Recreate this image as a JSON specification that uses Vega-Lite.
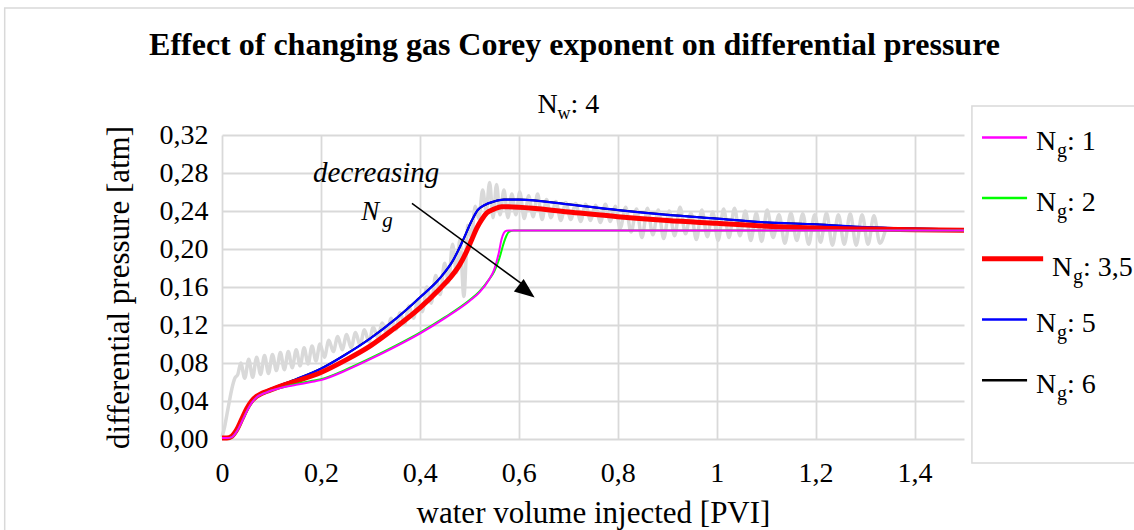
{
  "$schema": "https://vega.github.io/schema/vega-lite/v6.json",
  "width": 742,
  "height": 304,
  "autosize": {"type": "none"},
  "padding": {"left": 222, "top": 135, "right": 170, "bottom": 91},
  "background": "white",
  "config": {"font": "Liberation Serif", "view": {"stroke": null}},
  "datasets": {
    "one": [{}],
    "legend": [
      {"series": "1", "label": ": 1"},
      {"series": "2", "label": ": 2"},
      {"series": "3,5", "label": ": 3,5"},
      {"series": "5", "label": ": 5"},
      {"series": "6", "label": ": 6"}
    ],
    "exp": [
      {"x": 0.000, "y": 0.002}, {"x": 0.005, "y": 0.012}, {"x": 0.010, "y": 0.026}, {"x": 0.015, "y": 0.040},
      {"x": 0.020, "y": 0.053}, {"x": 0.026, "y": 0.064}, {"x": 0.032, "y": 0.068}, {"x": 0.038, "y": 0.080},
      {"x": 0.046, "y": 0.064}, {"x": 0.054, "y": 0.084}, {"x": 0.062, "y": 0.065}, {"x": 0.070, "y": 0.086},
      {"x": 0.078, "y": 0.068}, {"x": 0.086, "y": 0.088}, {"x": 0.094, "y": 0.069}, {"x": 0.102, "y": 0.089},
      {"x": 0.110, "y": 0.072}, {"x": 0.118, "y": 0.091}, {"x": 0.126, "y": 0.073}, {"x": 0.134, "y": 0.092},
      {"x": 0.142, "y": 0.075}, {"x": 0.150, "y": 0.094}, {"x": 0.158, "y": 0.077}, {"x": 0.166, "y": 0.096},
      {"x": 0.174, "y": 0.079}, {"x": 0.182, "y": 0.098}, {"x": 0.190, "y": 0.082}, {"x": 0.198, "y": 0.100},
      {"x": 0.207, "y": 0.086}, {"x": 0.216, "y": 0.104}, {"x": 0.225, "y": 0.092}, {"x": 0.234, "y": 0.108},
      {"x": 0.243, "y": 0.094}, {"x": 0.252, "y": 0.110}, {"x": 0.261, "y": 0.096}, {"x": 0.270, "y": 0.112},
      {"x": 0.279, "y": 0.099}, {"x": 0.288, "y": 0.115}, {"x": 0.297, "y": 0.102}, {"x": 0.306, "y": 0.118},
      {"x": 0.315, "y": 0.106}, {"x": 0.324, "y": 0.122}, {"x": 0.333, "y": 0.111}, {"x": 0.342, "y": 0.127},
      {"x": 0.351, "y": 0.115}, {"x": 0.360, "y": 0.133}, {"x": 0.369, "y": 0.121}, {"x": 0.378, "y": 0.140},
      {"x": 0.387, "y": 0.127}, {"x": 0.396, "y": 0.147}, {"x": 0.405, "y": 0.134}, {"x": 0.414, "y": 0.160},
      {"x": 0.423, "y": 0.143}, {"x": 0.432, "y": 0.172}, {"x": 0.441, "y": 0.152}, {"x": 0.450, "y": 0.185},
      {"x": 0.458, "y": 0.165}, {"x": 0.466, "y": 0.205}, {"x": 0.474, "y": 0.175}, {"x": 0.481, "y": 0.210},
      {"x": 0.489, "y": 0.150}, {"x": 0.497, "y": 0.225}, {"x": 0.504, "y": 0.212}, {"x": 0.512, "y": 0.245},
      {"x": 0.519, "y": 0.232}, {"x": 0.527, "y": 0.262}, {"x": 0.534, "y": 0.240}, {"x": 0.541, "y": 0.270},
      {"x": 0.548, "y": 0.233}, {"x": 0.555, "y": 0.268}, {"x": 0.562, "y": 0.236}, {"x": 0.570, "y": 0.262},
      {"x": 0.578, "y": 0.233}, {"x": 0.586, "y": 0.258}, {"x": 0.594, "y": 0.236}, {"x": 0.602, "y": 0.260},
      {"x": 0.611, "y": 0.232}, {"x": 0.620, "y": 0.256}, {"x": 0.629, "y": 0.234}, {"x": 0.638, "y": 0.258},
      {"x": 0.647, "y": 0.231}, {"x": 0.656, "y": 0.252}, {"x": 0.665, "y": 0.233}, {"x": 0.675, "y": 0.250},
      {"x": 0.685, "y": 0.230}, {"x": 0.695, "y": 0.249}, {"x": 0.705, "y": 0.231}, {"x": 0.715, "y": 0.248},
      {"x": 0.725, "y": 0.229}, {"x": 0.735, "y": 0.247}, {"x": 0.745, "y": 0.230}, {"x": 0.755, "y": 0.246},
      {"x": 0.765, "y": 0.228}, {"x": 0.775, "y": 0.247}, {"x": 0.785, "y": 0.229}, {"x": 0.795, "y": 0.245},
      {"x": 0.805, "y": 0.222}, {"x": 0.816, "y": 0.244}, {"x": 0.827, "y": 0.218}, {"x": 0.838, "y": 0.242},
      {"x": 0.849, "y": 0.212}, {"x": 0.860, "y": 0.243}, {"x": 0.871, "y": 0.215}, {"x": 0.882, "y": 0.241},
      {"x": 0.893, "y": 0.211}, {"x": 0.904, "y": 0.240}, {"x": 0.915, "y": 0.214}, {"x": 0.926, "y": 0.244},
      {"x": 0.937, "y": 0.216}, {"x": 0.948, "y": 0.238}, {"x": 0.959, "y": 0.210}, {"x": 0.970, "y": 0.241},
      {"x": 0.981, "y": 0.213}, {"x": 0.992, "y": 0.239}, {"x": 1.003, "y": 0.209}, {"x": 1.014, "y": 0.242},
      {"x": 1.025, "y": 0.212}, {"x": 1.036, "y": 0.243}, {"x": 1.047, "y": 0.214}, {"x": 1.058, "y": 0.240},
      {"x": 1.069, "y": 0.209}, {"x": 1.080, "y": 0.238}, {"x": 1.091, "y": 0.208}, {"x": 1.102, "y": 0.241},
      {"x": 1.114, "y": 0.212}, {"x": 1.126, "y": 0.236}, {"x": 1.138, "y": 0.206}, {"x": 1.150, "y": 0.238},
      {"x": 1.162, "y": 0.209}, {"x": 1.174, "y": 0.237}, {"x": 1.186, "y": 0.205}, {"x": 1.198, "y": 0.236},
      {"x": 1.210, "y": 0.207}, {"x": 1.222, "y": 0.238}, {"x": 1.234, "y": 0.204}, {"x": 1.246, "y": 0.236},
      {"x": 1.258, "y": 0.205}, {"x": 1.270, "y": 0.237}, {"x": 1.282, "y": 0.204}, {"x": 1.294, "y": 0.236},
      {"x": 1.306, "y": 0.205}, {"x": 1.318, "y": 0.235}, {"x": 1.330, "y": 0.206}, {"x": 1.342, "y": 0.222}
    ],
    "curves": [
      {"s": "6", "x": 0, "y": 0.001}, {"s": "6", "x": 0.01, "y": 0.001}, {"s": "6", "x": 0.02, "y": 0.003}, {"s": "6", "x": 0.03, "y": 0.010},
      {"s": "6", "x": 0.04, "y": 0.021}, {"s": "6", "x": 0.05, "y": 0.032}, {"s": "6", "x": 0.06, "y": 0.040}, {"s": "6", "x": 0.07, "y": 0.045},
      {"s": "6", "x": 0.08, "y": 0.048}, {"s": "6", "x": 0.09, "y": 0.051}, {"s": "6", "x": 0.10, "y": 0.053}, {"s": "6", "x": 0.12, "y": 0.057},
      {"s": "6", "x": 0.15, "y": 0.063}, {"s": "6", "x": 0.20, "y": 0.074}, {"s": "6", "x": 0.25, "y": 0.089}, {"s": "6", "x": 0.30, "y": 0.106},
      {"s": "6", "x": 0.35, "y": 0.126}, {"s": "6", "x": 0.40, "y": 0.149}, {"s": "6", "x": 0.44, "y": 0.169}, {"s": "6", "x": 0.467, "y": 0.188},
      {"s": "6", "x": 0.487, "y": 0.209}, {"s": "6", "x": 0.505, "y": 0.230}, {"s": "6", "x": 0.517, "y": 0.241}, {"s": "6", "x": 0.53, "y": 0.246},
      {"s": "6", "x": 0.55, "y": 0.250}, {"s": "6", "x": 0.57, "y": 0.252}, {"s": "6", "x": 0.60, "y": 0.252}, {"s": "6", "x": 0.70, "y": 0.247},
      {"s": "6", "x": 0.80, "y": 0.241}, {"s": "6", "x": 0.90, "y": 0.236}, {"s": "6", "x": 1.00, "y": 0.232}, {"s": "6", "x": 1.10, "y": 0.228},
      {"s": "6", "x": 1.20, "y": 0.226}, {"s": "6", "x": 1.30, "y": 0.223}, {"s": "6", "x": 1.40, "y": 0.2215}, {"s": "6", "x": 1.50, "y": 0.2205},

      {"s": "5", "x": 0, "y": 0.001}, {"s": "5", "x": 0.01, "y": 0.001}, {"s": "5", "x": 0.02, "y": 0.003}, {"s": "5", "x": 0.03, "y": 0.010},
      {"s": "5", "x": 0.04, "y": 0.021}, {"s": "5", "x": 0.05, "y": 0.032}, {"s": "5", "x": 0.06, "y": 0.040}, {"s": "5", "x": 0.07, "y": 0.045},
      {"s": "5", "x": 0.08, "y": 0.048}, {"s": "5", "x": 0.09, "y": 0.051}, {"s": "5", "x": 0.10, "y": 0.053}, {"s": "5", "x": 0.12, "y": 0.057},
      {"s": "5", "x": 0.15, "y": 0.063}, {"s": "5", "x": 0.20, "y": 0.074}, {"s": "5", "x": 0.25, "y": 0.089}, {"s": "5", "x": 0.30, "y": 0.106},
      {"s": "5", "x": 0.35, "y": 0.126}, {"s": "5", "x": 0.40, "y": 0.149}, {"s": "5", "x": 0.44, "y": 0.169}, {"s": "5", "x": 0.467, "y": 0.188},
      {"s": "5", "x": 0.487, "y": 0.209}, {"s": "5", "x": 0.505, "y": 0.230}, {"s": "5", "x": 0.517, "y": 0.241}, {"s": "5", "x": 0.53, "y": 0.246},
      {"s": "5", "x": 0.55, "y": 0.250}, {"s": "5", "x": 0.57, "y": 0.252}, {"s": "5", "x": 0.60, "y": 0.252}, {"s": "5", "x": 0.70, "y": 0.247},
      {"s": "5", "x": 0.80, "y": 0.241}, {"s": "5", "x": 0.90, "y": 0.236}, {"s": "5", "x": 1.00, "y": 0.232}, {"s": "5", "x": 1.10, "y": 0.228},
      {"s": "5", "x": 1.20, "y": 0.226}, {"s": "5", "x": 1.30, "y": 0.223}, {"s": "5", "x": 1.40, "y": 0.2215}, {"s": "5", "x": 1.50, "y": 0.2205},

      {"s": "3,5", "x": 0, "y": 0.001}, {"s": "3,5", "x": 0.01, "y": 0.001}, {"s": "3,5", "x": 0.02, "y": 0.003}, {"s": "3,5", "x": 0.03, "y": 0.010},
      {"s": "3,5", "x": 0.04, "y": 0.021}, {"s": "3,5", "x": 0.05, "y": 0.032}, {"s": "3,5", "x": 0.06, "y": 0.040}, {"s": "3,5", "x": 0.07, "y": 0.045},
      {"s": "3,5", "x": 0.08, "y": 0.048}, {"s": "3,5", "x": 0.09, "y": 0.050}, {"s": "3,5", "x": 0.10, "y": 0.052}, {"s": "3,5", "x": 0.12, "y": 0.056},
      {"s": "3,5", "x": 0.15, "y": 0.061}, {"s": "3,5", "x": 0.20, "y": 0.070}, {"s": "3,5", "x": 0.25, "y": 0.083}, {"s": "3,5", "x": 0.30, "y": 0.098},
      {"s": "3,5", "x": 0.35, "y": 0.117}, {"s": "3,5", "x": 0.40, "y": 0.138}, {"s": "3,5", "x": 0.44, "y": 0.158}, {"s": "3,5", "x": 0.46, "y": 0.169},
      {"s": "3,5", "x": 0.48, "y": 0.183}, {"s": "3,5", "x": 0.495, "y": 0.198}, {"s": "3,5", "x": 0.505, "y": 0.210}, {"s": "3,5", "x": 0.515, "y": 0.222},
      {"s": "3,5", "x": 0.525, "y": 0.231}, {"s": "3,5", "x": 0.535, "y": 0.238}, {"s": "3,5", "x": 0.55, "y": 0.242}, {"s": "3,5", "x": 0.565, "y": 0.2445},
      {"s": "3,5", "x": 0.60, "y": 0.2440}, {"s": "3,5", "x": 0.70, "y": 0.239}, {"s": "3,5", "x": 0.80, "y": 0.234}, {"s": "3,5", "x": 0.90, "y": 0.230},
      {"s": "3,5", "x": 1.00, "y": 0.227}, {"s": "3,5", "x": 1.10, "y": 0.224}, {"s": "3,5", "x": 1.20, "y": 0.222}, {"s": "3,5", "x": 1.30, "y": 0.221},
      {"s": "3,5", "x": 1.40, "y": 0.2203}, {"s": "3,5", "x": 1.50, "y": 0.2198},

      {"s": "2", "x": 0, "y": 0.001}, {"s": "2", "x": 0.01, "y": 0.001}, {"s": "2", "x": 0.02, "y": 0.002}, {"s": "2", "x": 0.03, "y": 0.008},
      {"s": "2", "x": 0.04, "y": 0.018}, {"s": "2", "x": 0.05, "y": 0.029}, {"s": "2", "x": 0.06, "y": 0.038}, {"s": "2", "x": 0.07, "y": 0.044},
      {"s": "2", "x": 0.08, "y": 0.047}, {"s": "2", "x": 0.09, "y": 0.049}, {"s": "2", "x": 0.10, "y": 0.051}, {"s": "2", "x": 0.12, "y": 0.054},
      {"s": "2", "x": 0.15, "y": 0.058}, {"s": "2", "x": 0.18, "y": 0.061}, {"s": "2", "x": 0.20, "y": 0.063}, {"s": "2", "x": 0.25, "y": 0.073},
      {"s": "2", "x": 0.30, "y": 0.085}, {"s": "2", "x": 0.35, "y": 0.098}, {"s": "2", "x": 0.40, "y": 0.112}, {"s": "2", "x": 0.45, "y": 0.128},
      {"s": "2", "x": 0.50, "y": 0.146}, {"s": "2", "x": 0.52, "y": 0.155}, {"s": "2", "x": 0.54, "y": 0.168}, {"s": "2", "x": 0.55, "y": 0.176},
      {"s": "2", "x": 0.56, "y": 0.189}, {"s": "2", "x": 0.57, "y": 0.207}, {"s": "2", "x": 0.575, "y": 0.214}, {"s": "2", "x": 0.58, "y": 0.218},
      {"s": "2", "x": 0.59, "y": 0.2195}, {"s": "2", "x": 0.70, "y": 0.2195}, {"s": "2", "x": 1.00, "y": 0.2195}, {"s": "2", "x": 1.50, "y": 0.2195},

      {"s": "1", "x": 0, "y": 0.001}, {"s": "1", "x": 0.01, "y": 0.001}, {"s": "1", "x": 0.02, "y": 0.002}, {"s": "1", "x": 0.03, "y": 0.008},
      {"s": "1", "x": 0.04, "y": 0.018}, {"s": "1", "x": 0.05, "y": 0.029}, {"s": "1", "x": 0.06, "y": 0.038}, {"s": "1", "x": 0.07, "y": 0.044},
      {"s": "1", "x": 0.08, "y": 0.047}, {"s": "1", "x": 0.09, "y": 0.049}, {"s": "1", "x": 0.10, "y": 0.051}, {"s": "1", "x": 0.12, "y": 0.054},
      {"s": "1", "x": 0.15, "y": 0.057}, {"s": "1", "x": 0.18, "y": 0.060}, {"s": "1", "x": 0.20, "y": 0.062}, {"s": "1", "x": 0.25, "y": 0.072},
      {"s": "1", "x": 0.30, "y": 0.084}, {"s": "1", "x": 0.35, "y": 0.097}, {"s": "1", "x": 0.40, "y": 0.111}, {"s": "1", "x": 0.45, "y": 0.127},
      {"s": "1", "x": 0.50, "y": 0.145}, {"s": "1", "x": 0.52, "y": 0.154}, {"s": "1", "x": 0.54, "y": 0.168}, {"s": "1", "x": 0.55, "y": 0.178},
      {"s": "1", "x": 0.56, "y": 0.197}, {"s": "1", "x": 0.565, "y": 0.210}, {"s": "1", "x": 0.57, "y": 0.217}, {"s": "1", "x": 0.575, "y": 0.2193},
      {"s": "1", "x": 0.58, "y": 0.2195}, {"s": "1", "x": 0.70, "y": 0.2195}, {"s": "1", "x": 1.00, "y": 0.2195}, {"s": "1", "x": 1.50, "y": 0.2195}
    ]
  },
  "layer": [
    {
      "layer": [
        {
          "data": {"name": "one"},
          "mark": {"type": "rect", "filled": false, "stroke": "#d9d9d9", "strokeWidth": 1.5},
          "encoding": {"x": {"datum": -0.4393}, "x2": {"datum": 3}, "y": {"datum": 0.4537}, "y2": {"datum": -0.6}}
        },
        {
          "data": {"name": "one"},
          "mark": {"type": "rect", "fill": "white", "stroke": "#d9d9d9", "strokeWidth": 1.5},
          "encoding": {"x": {"datum": 1.516}, "x2": {"datum": 2.5}, "y": {"datum": 0.3505}, "y2": {"datum": -0.0253}}
        },
        {
          "data": {"name": "exp"},
          "mark": {"type": "line", "color": "#d9d9d9", "strokeWidth": 3.5, "interpolate": "monotone"},
          "encoding": {
            "x": {
              "field": "x", "type": "quantitative",
              "scale": {"domain": [0, 1.5], "nice": false, "zero": false},
              "axis": {
                "values": [0, 0.2, 0.4, 0.6, 0.8, 1, 1.2, 1.4],
                "tickCount": 20,
                "labelExpr": "replace(toString(round(datum.value*10)/10), '.', ',')",
                "title": "water volume injected [PVI]",
                "grid": true, "gridColor": "#d9d9d9", "gridWidth": 1.8,
                "domain": false, "ticks": false,
                "labelFont": "Liberation Serif", "labelFontSize": 28, "labelColor": "#000000", "labelPadding": 20,
                "labelOverlap": false, "labelFlush": false,
                "titleFont": "Liberation Serif", "titleFontSize": 31, "titleFontWeight": "normal", "titleColor": "#000000", "titlePadding": 11
              }
            },
            "y": {
              "field": "y", "type": "quantitative",
              "scale": {"domain": [0, 0.32], "nice": false, "zero": false},
              "axis": {
                "values": [0, 0.04, 0.08, 0.12, 0.16, 0.2, 0.24, 0.28, 0.32],
                "tickCount": 12,
                "labelExpr": "replace(format(datum.value, '.2f'), '.', ',')",
                "title": "differential pressure [atm]",
                "grid": true, "gridColor": "#d9d9d9", "gridWidth": 1.8,
                "domain": false, "ticks": false,
                "labelFont": "Liberation Serif", "labelFontSize": 28, "labelColor": "#000000", "labelPadding": 14,
                "labelOverlap": false,
                "titleFont": "Liberation Serif", "titleFontSize": 31, "titleFontWeight": "normal", "titleColor": "#000000", "titlePadding": 24
              }
            }
          }
        },
        {
          "data": {"name": "curves"},
          "transform": [{"filter": "datum.s === '6'"}],
          "mark": {"type": "line", "color": "#000000", "strokeWidth": 2, "interpolate": "monotone"},
          "encoding": {"x": {"field": "x", "type": "quantitative"}, "y": {"field": "y", "type": "quantitative"}}
        },
        {
          "data": {"name": "curves"},
          "transform": [{"filter": "datum.s === '5'"}],
          "mark": {"type": "line", "color": "#0000ff", "strokeWidth": 2.2, "interpolate": "monotone"},
          "encoding": {"x": {"field": "x", "type": "quantitative"}, "y": {"field": "y", "type": "quantitative"}}
        },
        {
          "data": {"name": "curves"},
          "transform": [{"filter": "datum.s === '3,5'"}],
          "mark": {"type": "line", "color": "#ff0000", "strokeWidth": 5, "interpolate": "monotone"},
          "encoding": {"x": {"field": "x", "type": "quantitative"}, "y": {"field": "y", "type": "quantitative"}}
        },
        {
          "data": {"name": "curves"},
          "transform": [{"filter": "datum.s === '2'"}],
          "mark": {"type": "line", "color": "#00ff00", "strokeWidth": 2, "interpolate": "monotone"},
          "encoding": {"x": {"field": "x", "type": "quantitative"}, "y": {"field": "y", "type": "quantitative"}}
        },
        {
          "data": {"name": "curves"},
          "transform": [{"filter": "datum.s === '1'"}],
          "mark": {"type": "line", "color": "#ff00ff", "strokeWidth": 2, "interpolate": "monotone"},
          "encoding": {"x": {"field": "x", "type": "quantitative"}, "y": {"field": "y", "type": "quantitative"}}
        },
        {
          "data": {"name": "one"},
          "mark": {"type": "rule", "color": "#000000", "strokeWidth": 1.5},
          "encoding": {"x": {"datum": 0.384}, "y": {"datum": 0.248}, "x2": {"datum": 0.62}, "y2": {"datum": 0.158}}
        },
        {
          "data": {"name": "one"},
          "mark": {"type": "point", "shape": "M0,0L-1,-0.4L-1,0.4Z", "size": 1600, "filled": true, "color": "#000000", "opacity": 1, "angle": 37.5},
          "encoding": {"x": {"datum": 0.632}, "y": {"datum": 0.149}}
        },
        {
          "data": {"name": "one"},
          "mark": {"type": "text", "text": "decreasing", "font": "Liberation Serif", "fontStyle": "italic", "fontSize": 29, "align": "center", "baseline": "alphabetic", "color": "#000000"},
          "encoding": {"x": {"datum": 0.3117}, "y": {"datum": 0.2705}}
        },
        {
          "data": {"name": "one"},
          "mark": {"type": "text", "text": "N", "font": "Liberation Serif", "fontStyle": "italic", "fontSize": 27, "align": "left", "baseline": "alphabetic", "color": "#000000"},
          "encoding": {"x": {"datum": 0.2814}, "y": {"datum": 0.2305}}
        },
        {
          "data": {"name": "one"},
          "mark": {"type": "text", "text": "g", "font": "Liberation Serif", "fontStyle": "italic", "fontSize": 21, "align": "left", "baseline": "alphabetic", "dx": 21, "dy": 7, "color": "#000000"},
          "encoding": {"x": {"datum": 0.2814}, "y": {"datum": 0.2305}}
        },
        {
          "data": {"name": "one"},
          "mark": {"type": "text", "text": "Effect of changing gas Corey exponent on differential pressure", "font": "Liberation Serif", "fontWeight": "bold", "fontSize": 32, "align": "center", "baseline": "alphabetic", "color": "#000000"},
          "encoding": {"x": {"datum": 0.7126}, "y": {"datum": 0.4042}}
        },
        {
          "data": {"name": "one"},
          "mark": {"type": "text", "text": "N", "font": "Liberation Serif", "fontSize": 28, "align": "left", "baseline": "alphabetic", "color": "#000000"},
          "encoding": {"x": {"datum": 0.6377}, "y": {"datum": 0.3432}}
        },
        {
          "data": {"name": "one"},
          "mark": {"type": "text", "text": "w", "font": "Liberation Serif", "fontSize": 18, "align": "left", "baseline": "alphabetic", "dx": 20, "dy": 6, "color": "#000000"},
          "encoding": {"x": {"datum": 0.6377}, "y": {"datum": 0.3432}}
        },
        {
          "data": {"name": "one"},
          "mark": {"type": "text", "text": ": 4", "font": "Liberation Serif", "fontSize": 28, "align": "left", "baseline": "alphabetic", "dx": 33, "color": "#000000"},
          "encoding": {"x": {"datum": 0.6377}, "y": {"datum": 0.3432}}
        }
      ]
    },
    {
      "data": {"name": "legend"},
      "layer": [
        {
          "transform": [{"filter": "datum.series !== '3,5'"}],
          "mark": {"type": "rule", "strokeWidth": 2.5},
          "encoding": {
            "x": {"datum": 1.5364}, "x2": {"datum": 1.6275},
            "y": {"field": "series", "type": "ordinal", "scale": {"type": "point", "domain": ["1", "2", "3,5", "5", "6"], "padding": 0.504, "align": 0.039}, "axis": null},
            "color": {"field": "series", "type": "nominal", "scale": {"domain": ["1", "2", "3,5", "5", "6"], "range": ["#ff00ff", "#00ff00", "#ff0000", "#0000ff", "#000000"]}, "legend": null}
          }
        },
        {
          "transform": [{"filter": "datum.series === '3,5'"}],
          "mark": {"type": "rule", "strokeWidth": 5, "color": "#ff0000"},
          "encoding": {
            "x": {"datum": 1.5364}, "x2": {"datum": 1.66},
            "y": {"field": "series", "type": "ordinal", "scale": {"type": "point", "domain": ["1", "2", "3,5", "5", "6"], "padding": 0.504, "align": 0.039}, "axis": null}
          }
        },
        {
          "transform": [{"filter": "datum.series !== '3,5'"}],
          "mark": {"type": "text", "text": "N", "font": "Liberation Serif", "fontSize": 28, "align": "left", "baseline": "alphabetic", "dy": 13, "color": "#000000"},
          "encoding": {
            "x": {"datum": 1.6457},
            "y": {"field": "series", "type": "ordinal", "scale": {"type": "point", "domain": ["1", "2", "3,5", "5", "6"], "padding": 0.504, "align": 0.039}, "axis": null}
          }
        },
        {
          "transform": [{"filter": "datum.series !== '3,5'"}],
          "mark": {"type": "text", "text": "g", "font": "Liberation Serif", "fontSize": 20, "align": "left", "baseline": "alphabetic", "dx": 21, "dy": 20, "color": "#000000"},
          "encoding": {
            "x": {"datum": 1.6457},
            "y": {"field": "series", "type": "ordinal", "scale": {"type": "point", "domain": ["1", "2", "3,5", "5", "6"], "padding": 0.504, "align": 0.039}, "axis": null}
          }
        },
        {
          "transform": [{"filter": "datum.series !== '3,5'"}],
          "mark": {"type": "text", "font": "Liberation Serif", "fontSize": 28, "align": "left", "baseline": "alphabetic", "dx": 31, "dy": 13, "color": "#000000"},
          "encoding": {
            "x": {"datum": 1.6457},
            "y": {"field": "series", "type": "ordinal", "scale": {"type": "point", "domain": ["1", "2", "3,5", "5", "6"], "padding": 0.504, "align": 0.039}, "axis": null},
            "text": {"field": "label", "type": "nominal"}
          }
        },
        {
          "transform": [{"filter": "datum.series === '3,5'"}],
          "mark": {"type": "text", "text": "N", "font": "Liberation Serif", "fontSize": 28, "align": "left", "baseline": "alphabetic", "dy": 17, "color": "#000000"},
          "encoding": {
            "x": {"datum": 1.678},
            "y": {"field": "series", "type": "ordinal", "scale": {"type": "point", "domain": ["1", "2", "3,5", "5", "6"], "padding": 0.504, "align": 0.039}, "axis": null}
          }
        },
        {
          "transform": [{"filter": "datum.series === '3,5'"}],
          "mark": {"type": "text", "text": "g", "font": "Liberation Serif", "fontSize": 20, "align": "left", "baseline": "alphabetic", "dx": 21, "dy": 24, "color": "#000000"},
          "encoding": {
            "x": {"datum": 1.678},
            "y": {"field": "series", "type": "ordinal", "scale": {"type": "point", "domain": ["1", "2", "3,5", "5", "6"], "padding": 0.504, "align": 0.039}, "axis": null}
          }
        },
        {
          "transform": [{"filter": "datum.series === '3,5'"}],
          "mark": {"type": "text", "font": "Liberation Serif", "fontSize": 28, "align": "left", "baseline": "alphabetic", "dx": 31, "dy": 17, "color": "#000000"},
          "encoding": {
            "x": {"datum": 1.678},
            "y": {"field": "series", "type": "ordinal", "scale": {"type": "point", "domain": ["1", "2", "3,5", "5", "6"], "padding": 0.504, "align": 0.039}, "axis": null},
            "text": {"field": "label", "type": "nominal"}
          }
        }
      ]
    }
  ],
  "resolve": {"scale": {"y": "independent"}}
}
